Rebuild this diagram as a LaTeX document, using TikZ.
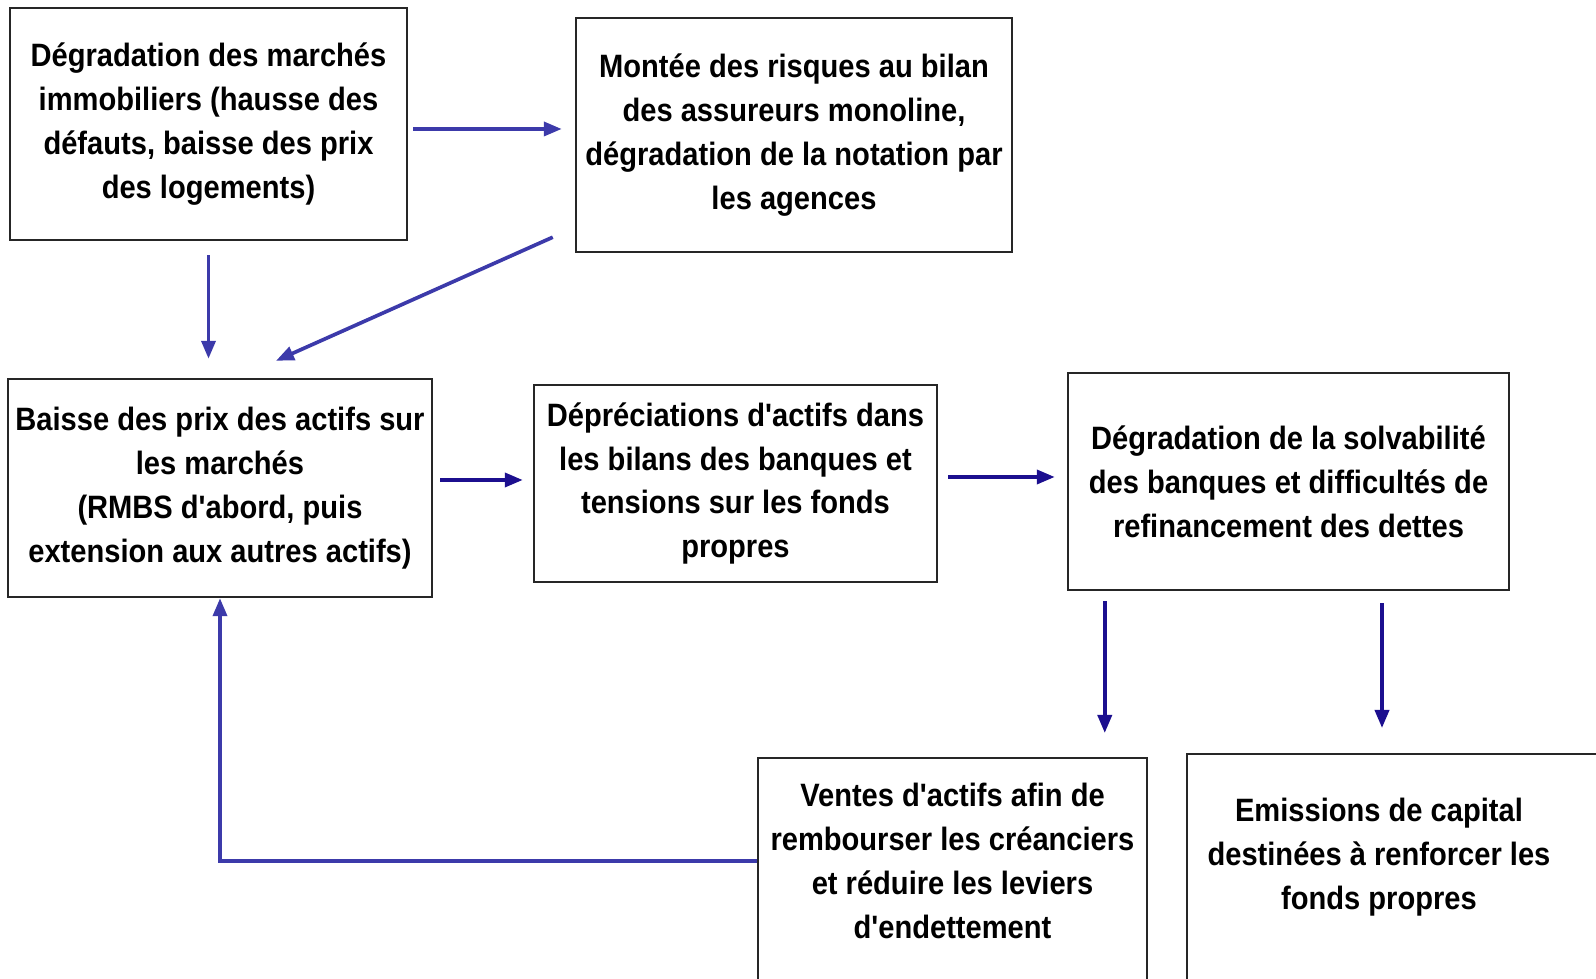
\documentclass[tikz,border=0pt]{standalone}
\usepackage{fontspec}
\setmainfont[FakeStretch=0.9,Ligatures=TeXOff]{Liberation Sans}
\usepackage{tikz}
\usetikzlibrary{arrows.meta,positioning,calc}
\definecolor{linkblue}{HTML}{3C3AAA}
\definecolor{linknavy}{HTML}{1C0F8F}
\tikzset{box/.style={draw=black!85,line width=0.7pt,inner sep=0pt,align=center,font=\fontsize{9.2}{12.5}\selectfont\bfseries}}
\tikzset{txt/.style={inner sep=0pt,align=center,font=\fontsize{9.2}{12.5}\selectfont\bfseries}}

\begin{document}
\begin{tikzpicture}[>={Triangle[length=1.8mm,width=1.4mm]}, line width=1.05pt]
    \useasboundingbox (0,0) rectangle (15.96,9.79);
    \node[box,minimum width=3.97cm,minimum height=2.32cm] (A) at (2.085,8.55) {Dégradation des marchés\\immobiliers (hausse des\\défauts, baisse des prix\\des logements)};
    \node[box,minimum width=4.36cm,minimum height=2.34cm] (B) at (7.94,8.44) {Montée des risques au bilan\\des assureurs monoline,\\dégradation de la notation par\\les agences};
    \node[box,minimum width=4.24cm,minimum height=2.18cm] (C) at (2.20,4.91) {Baisse des prix des actifs sur\\les marchés\\(RMBS d'abord, puis\\extension aux autres actifs)};
    \node[box,minimum width=4.03cm,minimum height=1.97cm] (D) at (7.355,4.955) {Dépréciations d'actifs dans\\les bilans des banques et\\tensions sur les fonds\\propres};
    \node[box,minimum width=4.41cm,minimum height=2.17cm] (E) at (12.885,4.975) {Dégradation de la solvabilité\\des banques et difficultés de\\refinancement des dettes};
    % boxes cut by the lower edge
    \node[box,anchor=north,minimum width=3.89cm,minimum height=2.6cm] (F) at (9.525,2.22) {};
    \node[txt] (Ftext) at (9.525,1.18) {Ventes d'actifs afin de\\rembourser les créanciers\\et réduire les leviers\\d'endettement};
    \node[box,anchor=north,minimum width=4.4cm,minimum height=2.6cm] (G) at (14.07,2.26) {};
    \node[txt] (Gtext) at (13.79,1.22) {Emissions de capital\\destinées à renforcer les\\fonds propres};

    \draw[->,linkblue,shorten <=0.5mm,shorten >=1.3mm] ([yshift=-0.5mm]A.east) -- ([yshift=-0.5mm]A.east -| B.west);
    \draw[->,linkblue,shorten <=1.4mm,shorten >=1.9mm] (A.south) -- (A.south |- C.north);
    \draw[->,linkblue] ($(B.south west)+(-0.22,0.16)$) -- ($(C.north)+(0.56,0.17)$);
    \draw[->,linknavy,shorten <=0.7mm,shorten >=1mm] ([yshift=0.8mm]C.east) -- ([yshift=0.8mm]C.east -| D.west);
    \draw[->,linknavy,shorten <=1mm,shorten >=1.2mm] ([yshift=0.65mm]D.east) -- ([yshift=0.65mm]D.east -| E.west);
    \draw[->,linknavy,shorten <=1mm,shorten >=2.4mm] ([xshift=3.8mm]E.south west) -- ([xshift=3.8mm]E.south west |- F.north);
    \draw[->,linknavy,shorten <=1.2mm,shorten >=2.5mm] ([xshift=0.3mm]Gtext.north |- E.south) -- ([xshift=0.3mm]Gtext.north |- G.north);
    % feedback loop
    \draw[->,linkblue] (Ftext -| F.west) -| (C.south);
\end{tikzpicture}
\end{document}
